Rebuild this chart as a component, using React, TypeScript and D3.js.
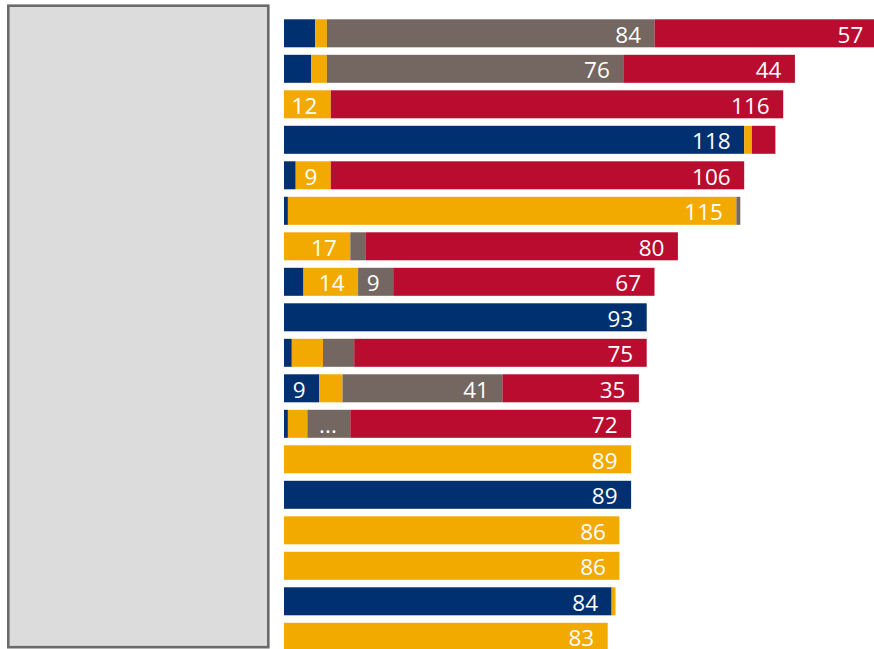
import React from "react";
import * as d3 from "d3";

const rows = ["r1","r2","r3","r4","r5","r6","r7","r8","r9","r10","r11","r12","r13","r14","r15","r16","r17","r18"];
const navy =   [8, 7, 0, 118, 3, 1, 0, 5, 93, 2, 9, 1, 0, 89, 0, 0, 84, 0];
const orange = [3, 4, 12, 2, 9, 115, 17, 14, 0, 8, 6, 5, 89, 0, 86, 86, 1, 83];
const grey =   [84, 76, 0, 0, 0, 1, 4, 9, 0, 8, 41, 11, 0, 0, 0, 0, 0, 0];
const red =    [57, 44, 116, 6, 106, 0, 80, 67, 0, 75, 35, 72, 0, 0, 0, 0, 0, 0];
const labelThreshold = 9;
// label text overrides: [seriesIndex, rowIndex, text]
const labelOverrides: [number, number, string][] = [[2, 11, "..."]];

const seriesNames = ["navy", "orange", "grey", "red"];
const seriesValues = [navy, orange, grey, red];
const colors = ["#00306f", "#f2a900", "#746660", "#b90c2f"];

export default function App() {
  const W = 874, H = 649;
  const x = d3.scaleLinear().domain([0, 100]).range([284, 674]);
  const y = d3.scaleBand<string>().domain(rows).range([19.3, 650.8]).paddingInner(0.211).paddingOuter(0);
  const stackData = rows.map((r, i) => {
    const o: any = { row: r };
    seriesNames.forEach((s, k) => (o[s] = seriesValues[k][i]));
    return o;
  });
  const stack = d3.stack<any>().keys(seriesNames)(stackData);
  const bh = y.bandwidth();

  return (
    <svg width={W} height={H} style={{ position: "absolute", left: 0, top: 0, background: "#fff" }}>
      <rect x={8.3} y={5.7} width={260} height={641.5} fill="#dcdcdc" stroke="#6a6a6a" strokeWidth={2.6} />
      {stack.map((layer, k) => (
        <g key={seriesNames[k]}>
          {layer.map((d, i) => {
            const v = d[1] - d[0];
            if (v <= 0) return null;
            const x0 = x(d[0]), x1 = x(d[1]);
            const yy = y(rows[i])!;
            let text: string | null = v >= labelThreshold ? String(v) : null;
            const ov = labelOverrides.find((o) => o[0] === k && o[1] === i);
            if (ov) text = ov[2];
            return (
              <g key={i}>
                <rect x={x0} y={yy} width={x1 - x0} height={bh} fill={colors[k]} />
                {text && (
                  <text
                    x={x1 - 13.5}
                    y={yy + 23.3}
                    textAnchor="end"
                    fill="#ffffff"
                    fontFamily="'Open Sans', sans-serif"
                    fontSize={22.5}
                    fontWeight={500}
                  >
                    {text}
                  </text>
                )}
              </g>
            );
          })}
        </g>
      ))}
    </svg>
  );
}
